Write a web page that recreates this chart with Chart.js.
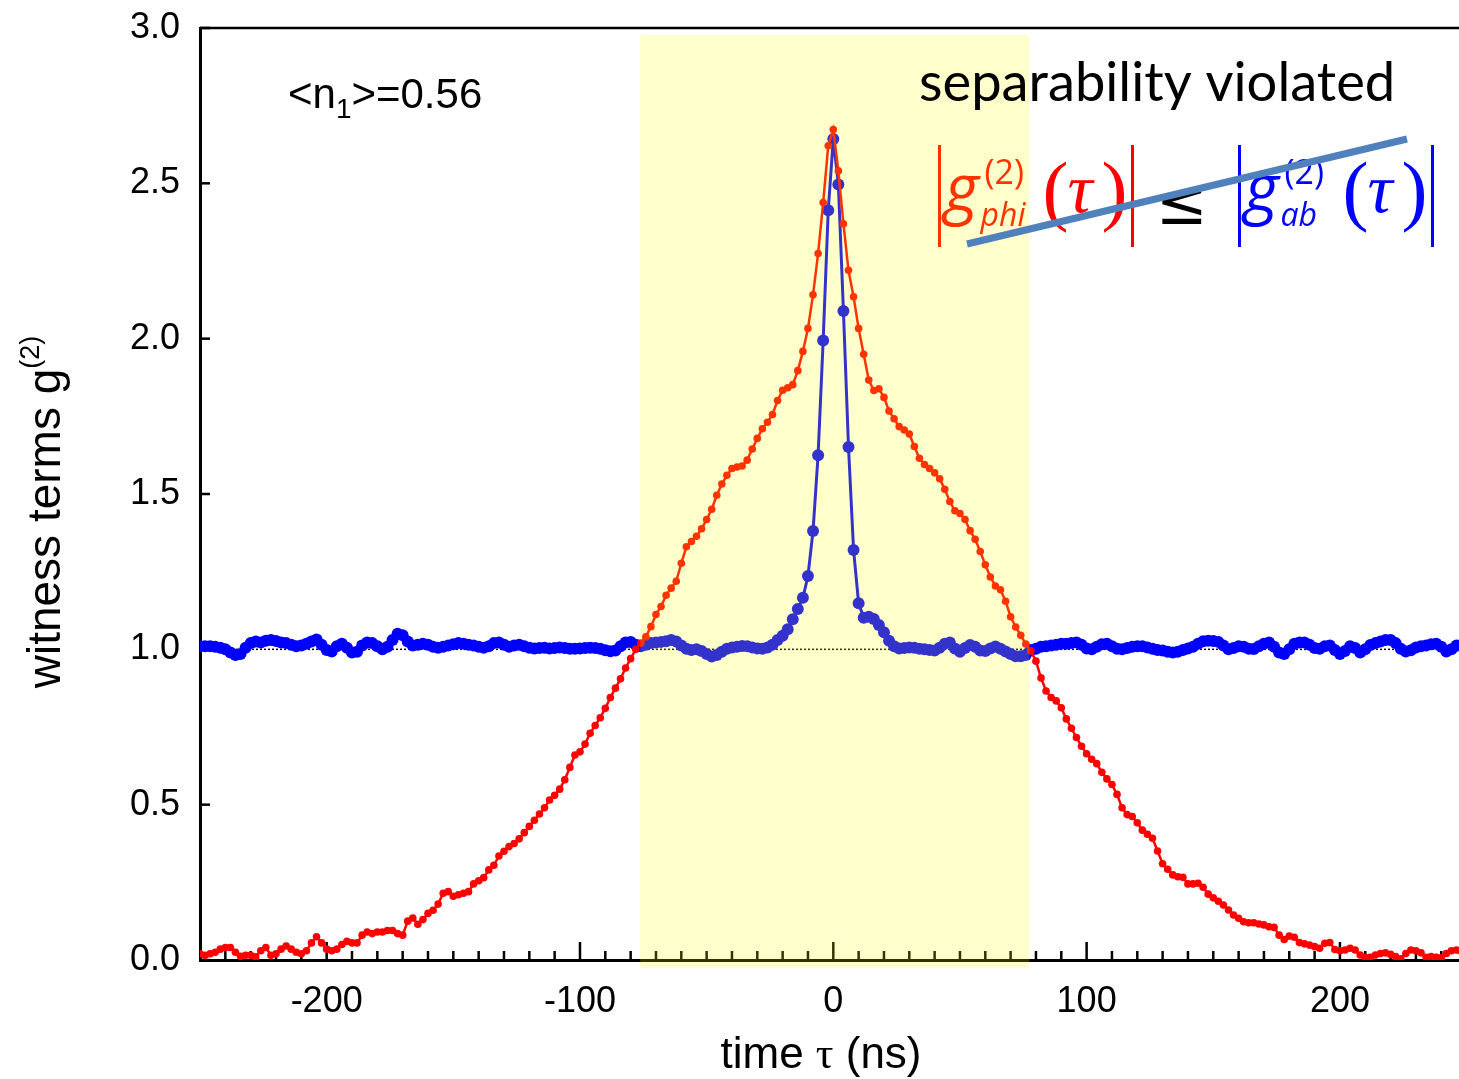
<!DOCTYPE html>
<html>
<head>
<meta charset="utf-8">
<script src="https://cdn.jsdelivr.net/npm/chart.js@4.4.1/dist/chart.umd.min.js"></script>
<style>
  html, body { margin: 0; padding: 0; background: #fff; }
  #wrap { width: 1459px; height: 1079px; }
</style>
</head>
<body>
<div id="wrap"><canvas id="chart" width="1459" height="1079"></canvas></div>
<script>
// g2 of the heralded photon (red) and of the a/b pair (blue), sampled every 2 ns from -250 ns
const tStart = -250
const tStep = 2

const gPhi = [
  0.02, 0.015, 0.02, 0.025, 0.035, 0.04, 0.04, 0.025, 0.012, 0.015,
  0.015, 0.01, 0.03, 0.04, 0.015, 0.02, 0.035, 0.045, 0.035, 0.025,
  0.02, 0.03, 0.055, 0.075, 0.055, 0.035, 0.03, 0.035, 0.05, 0.06,
  0.055, 0.055, 0.08, 0.09, 0.085, 0.09, 0.09, 0.095, 0.095, 0.085,
  0.08, 0.125, 0.135, 0.115, 0.13, 0.15, 0.16, 0.18, 0.215, 0.22,
  0.205, 0.21, 0.215, 0.22, 0.245, 0.255, 0.265, 0.29, 0.305, 0.335,
  0.35, 0.365, 0.375, 0.39, 0.41, 0.43, 0.45, 0.47, 0.49, 0.515,
  0.53, 0.55, 0.58, 0.62, 0.66, 0.67, 0.695, 0.73, 0.755, 0.78,
  0.81, 0.845, 0.875, 0.905, 0.94, 0.97, 1.0, 1.02, 1.04, 1.073,
  1.112, 1.138, 1.174, 1.197, 1.219, 1.277, 1.33, 1.347, 1.364, 1.388,
  1.418, 1.451, 1.496, 1.532, 1.56, 1.582, 1.587, 1.59, 1.609, 1.645,
  1.679, 1.71, 1.731, 1.756, 1.801, 1.834, 1.842, 1.852, 1.897, 1.959,
  2.033, 2.141, 2.274, 2.438, 2.621, 2.673, 2.54, 2.37, 2.22, 2.135,
  2.033, 1.95, 1.867, 1.833, 1.839, 1.811, 1.767, 1.742, 1.717, 1.706,
  1.693, 1.653, 1.615, 1.595, 1.582, 1.568, 1.549, 1.515, 1.476, 1.446,
  1.437, 1.418, 1.382, 1.354, 1.315, 1.272, 1.233, 1.204, 1.192, 1.155,
  1.105, 1.072, 1.045, 1.017, 0.995, 0.962, 0.908, 0.866, 0.845, 0.834,
  0.812, 0.776, 0.746, 0.716, 0.688, 0.664, 0.646, 0.632, 0.604, 0.583,
  0.565, 0.533, 0.49, 0.468, 0.462, 0.442, 0.418, 0.405, 0.392, 0.351,
  0.31, 0.292, 0.274, 0.268, 0.266, 0.245, 0.245, 0.247, 0.234, 0.212,
  0.2, 0.189, 0.177, 0.161, 0.145, 0.134, 0.123, 0.12, 0.12, 0.116,
  0.113, 0.107, 0.105, 0.08, 0.066, 0.077, 0.073, 0.056, 0.052, 0.048,
  0.043, 0.038, 0.054, 0.056, 0.034, 0.03, 0.032, 0.038, 0.032, 0.016,
  0.009, 0.009, 0.016, 0.021, 0.023, 0.018, 0.011, 0.004, 0.021, 0.032,
  0.03, 0.023, 0.009, 0.011, 0.009, 0.007, 0.021, 0.03, 0.032, 0.027
]

const gAb = [
  1.01, 1.01, 1.01, 1.008, 1.005, 1.0, 0.99, 0.982, 0.985, 1.005,
  1.02, 1.025, 1.022, 1.028, 1.03, 1.027, 1.022, 1.02, 1.015, 1.01,
  1.012, 1.018, 1.025, 1.032, 1.015, 0.998, 0.993, 1.01, 1.018, 1.005,
  0.99, 0.992, 1.012, 1.022, 1.02, 1.01, 1.0, 1.008, 1.03, 1.05,
  1.045, 1.025, 1.012, 1.015, 1.018, 1.015, 1.008, 1.005, 1.008, 1.012,
  1.016, 1.02, 1.018, 1.015, 1.012, 1.008, 1.005, 1.01, 1.02, 1.022,
  1.015, 1.008, 1.012, 1.015, 1.01, 1.005, 1.003, 1.004, 1.005, 1.003,
  1.004, 1.006, 1.004, 1.002, 1.002, 1.003, 1.004, 1.005, 1.004, 1.002,
  0.997, 0.994, 0.996, 1.01, 1.022, 1.024, 1.015, 1.01, 1.015, 1.02,
  1.022, 1.024, 1.026, 1.03, 1.025, 1.012, 1.002, 0.998, 1.0, 0.995,
  0.985, 0.977, 0.982, 0.992, 1.002, 1.006, 1.008, 1.011, 1.01, 1.006,
  1.003, 1.002, 1.006, 1.015, 1.03, 1.044, 1.065, 1.097, 1.13, 1.166,
  1.236, 1.381, 1.625, 1.994, 2.413, 2.643, 2.496, 2.089, 1.651, 1.32,
  1.148, 1.102, 1.105, 1.098, 1.078, 1.055, 1.028, 1.01, 1.003, 1.004,
  1.006, 1.005, 1.002, 1.0, 0.998, 0.996, 1.005, 1.018, 1.022, 1.003,
  0.992, 1.004, 1.014, 1.008, 0.996, 0.995, 1.003, 1.009, 1.002, 0.993,
  0.985, 0.978, 0.978, 0.982, 0.998, 1.002, 1.008, 1.01, 1.012, 1.015,
  1.018, 1.018, 1.02, 1.022, 1.015, 1.003, 1.0, 1.008, 1.016, 1.018,
  1.01, 1.002, 1.0, 1.004, 1.008, 1.01, 1.01, 1.006, 1.002, 0.998,
  0.996, 0.992, 0.99, 0.992, 0.998, 1.003, 1.008, 1.018, 1.026, 1.028,
  1.027, 1.024, 1.012, 1.0, 1.004, 1.01, 1.008, 1.002, 1.001, 1.01,
  1.018, 1.022, 1.008, 0.99, 0.985, 1.0, 1.018, 1.022, 1.022, 1.015,
  1.004, 1.002, 1.01, 1.012, 0.998, 0.985, 0.995, 1.01, 1.004, 0.99,
  1.0, 1.014, 1.02, 1.025, 1.03, 1.03, 1.02, 1.002, 0.993, 0.997,
  1.006, 1.01, 1.012, 1.016, 1.018, 1.008, 0.993, 1.0, 1.012, 1.014
]

const timeNs = gPhi.map((_, i) => tStart + tStep * i)

const xTickValues = [-200, -100, 0, 100, 200]
const yTickValues = [0, 0.5, 1.0, 1.5, 2.0, 2.5, 3.0]

// window where the witness is evaluated (ns), and its vertical extent (g2 units)
const bandNs = [-76.2, 77.4]
const bandG = [-0.026, 2.977]

const meanPhotonLabel = ["<n", "1", ">=0.56"]
const violatedLabel = "separability violated"

const toPoints = (ys) => ys.map((y, i) => ({ x: timeNs[i], y }))

function line(ctx, x1, y1, x2, y2) {
  ctx.beginPath()
  ctx.moveTo(x1, y1)
  ctx.lineTo(x2, y2)
  ctx.stroke()
}

function text(ctx, str, x, y, font, color, align) {
  ctx.font = font
  ctx.fillStyle = color
  ctx.textAlign = align || "left"
  ctx.textBaseline = "alphabetic"
  ctx.fillText(str, x, y)
  return ctx.measureText(str).width
}

// inward ticks, dotted unity line, top frame
const underlay = {
  id: "underlay",
  beforeDatasetsDraw(chart) {
    const { ctx, chartArea: a, scales: { x, y } } = chart
    ctx.save()
    ctx.strokeStyle = "#000"
    ctx.lineWidth = 1.5
    ctx.setLineDash([2, 2])
    line(ctx, a.left, y.getPixelForValue(1), a.right, y.getPixelForValue(1))
    ctx.setLineDash([])

    ctx.lineWidth = 2.5
    for (let v = -240; v <= x.max; v += 10) {
      const px = x.getPixelForValue(v)
      const len = v % 100 === 0 ? 18 : 9
      line(ctx, px, a.bottom, px, a.bottom - len)
    }
    yTickValues.forEach((v) => {
      const py = y.getPixelForValue(v)
      line(ctx, a.left, py, a.left + 10, py)
    })
    line(ctx, a.left, a.top, a.right, a.top)
    ctx.restore()
  },
}

// shaded window over the curves, then labels and the crossed-out inequality
const overlay = {
  id: "overlay",
  afterDatasetsDraw(chart) {
    const { ctx, scales: { x, y } } = chart
    ctx.save()

    const bx0 = x.getPixelForValue(bandNs[0])
    const bx1 = x.getPixelForValue(bandNs[1])
    const by0 = y.getPixelForValue(bandG[1])
    const by1 = y.getPixelForValue(bandG[0])
    ctx.fillStyle = "rgba(255, 255, 0, 0.2)"
    ctx.fillRect(bx0, by0, bx1 - bx0, by1 - by0)

    // <n_1>=0.56
    let cx = 288
    cx += text(ctx, meanPhotonLabel[0], cx, 108, "42px 'Liberation Sans'", "#000")
    cx += text(ctx, meanPhotonLabel[1], cx, 118, "28px 'Liberation Sans'", "#000")
    text(ctx, meanPhotonLabel[2], cx, 108, "42px 'Liberation Sans'", "#000")

    // heading, fitted to its slot
    ctx.font = "48px Lato"
    const fit = 48 * 476 / ctx.measureText(violatedLabel).width
    text(ctx, violatedLabel, 919, 101, `${fit.toFixed(1)}px Lato`, "#000")

    // |g_phi(tau)| <= |g_ab(tau)|
    const term = (col, accent, x0, sub) => {
      ctx.lineWidth = 3
      ctx.strokeStyle = accent
      line(ctx, x0, 145, x0, 247)
      text(ctx, "g", x0 + 5, 211, "italic 66px 'Open Sans'", accent)
      text(ctx, "(2)", x0 + 45, 184, "34px 'Open Sans'", accent)
      text(ctx, sub, x0 + 41, 226, "italic 32px 'Open Sans'", accent)
      text(ctx, "(", x0 + 103, 216, "78px 'Liberation Serif'", col)
      text(ctx, "\u03c4", x0 + 128, 212, "italic 70px 'Liberation Serif'", col)
      text(ctx, ")", x0 + 162, 216, "78px 'Liberation Serif'", col)
      ctx.strokeStyle = col
      line(ctx, x0 + 193, 145, x0 + 193, 247)
    }
    term("#ff0000", "#ff3300", 939.5, "phi")
    term("#0000ff", "#0000ff", 1239.5, "ab")
    text(ctx, "\u2264", 1182, 224, "62px 'DejaVu Sans'", "#000", "center")

    // axis titles
    const xParts = [
      ["time ", "44px 'Liberation Sans'"],
      ["\u03c4", "44px 'Liberation Serif'"],
      [" (ns)", "44px 'Liberation Sans'"],
    ]
    let total = 0
    xParts.forEach(([s, f]) => { ctx.font = f; total += ctx.measureText(s).width })
    cx = 821 - total / 2
    xParts.forEach(([s, f]) => { cx += text(ctx, s, cx, 1068, f, "#000") })

    ctx.save()
    ctx.translate(60, 512)
    ctx.rotate(-Math.PI / 2)
    ctx.font = "46px 'Liberation Sans'"
    const wMain = ctx.measureText("witness terms g").width
    ctx.font = "27px 'Liberation Sans'"
    const wSup = ctx.measureText("(2)").width
    const sx = -(wMain + wSup) / 2
    text(ctx, "witness terms g", sx, 0, "46px 'Liberation Sans'", "#000")
    text(ctx, "(2)", sx + wMain, -21, "27px 'Liberation Sans'", "#000")
    ctx.restore()

    // strike through the inequality
    ctx.strokeStyle = "#4f81bd"
    ctx.lineWidth = 7
    line(ctx, 967, 244, 1407, 139)

    ctx.restore()
  },
}

const ctx = document.getElementById("chart").getContext("2d")

new Chart(ctx, {
  type: "line",
  data: {
    datasets: [
      {
        label: "g2 phi",
        data: toPoints(gPhi),
        borderColor: "#ff0000",
        backgroundColor: "#ff0000",
        borderWidth: 2.5,
        pointRadius: 3.8,
        pointBorderWidth: 0,
        tension: 0,
      },
      {
        label: "g2 ab",
        data: toPoints(gAb),
        borderColor: "#0000ff",
        backgroundColor: "#0000ff",
        borderWidth: 3,
        pointRadius: 6,
        pointBorderWidth: 0,
        tension: 0,
      },
    ],
  },
  options: {
    responsive: false,
    animation: false,
    devicePixelRatio: 1,
    layout: { autoPadding: false, padding: { top: 28, right: 0, left: 0, bottom: 0 } },
    plugins: {
      legend: { display: false },
      tooltip: { enabled: false },
    },
    scales: {
      x: {
        type: "linear",
        min: -250,
        max: 247,
        afterFit: (scale) => {
          scale.height = 119
          scale.paddingLeft = 0
          scale.paddingRight = 0
        },
        afterBuildTicks: (scale) => {
          scale.ticks = xTickValues.map((value) => ({ value }))
        },
        grid: { display: false, drawTicks: false },
        border: { display: true, color: "#000", width: 3 },
        ticks: {
          padding: 20,
          color: "#000",
          font: { family: "'Liberation Sans'", size: 36 },
        },
      },
      y: {
        type: "linear",
        min: 0,
        max: 3,
        afterFit: (scale) => {
          scale.width = 200
          scale.paddingTop = 0
          scale.paddingBottom = 0
        },
        afterBuildTicks: (scale) => {
          scale.ticks = yTickValues.map((value) => ({ value }))
        },
        grid: { display: false, drawTicks: false },
        border: { display: true, color: "#000", width: 3 },
        ticks: {
          padding: 20,
          color: "#000",
          font: { family: "'Liberation Sans'", size: 36 },
          callback: (v) => v.toFixed(1),
        },
      },
    },
  },
  plugins: [underlay, overlay],
})
</script>
</body>
</html>
